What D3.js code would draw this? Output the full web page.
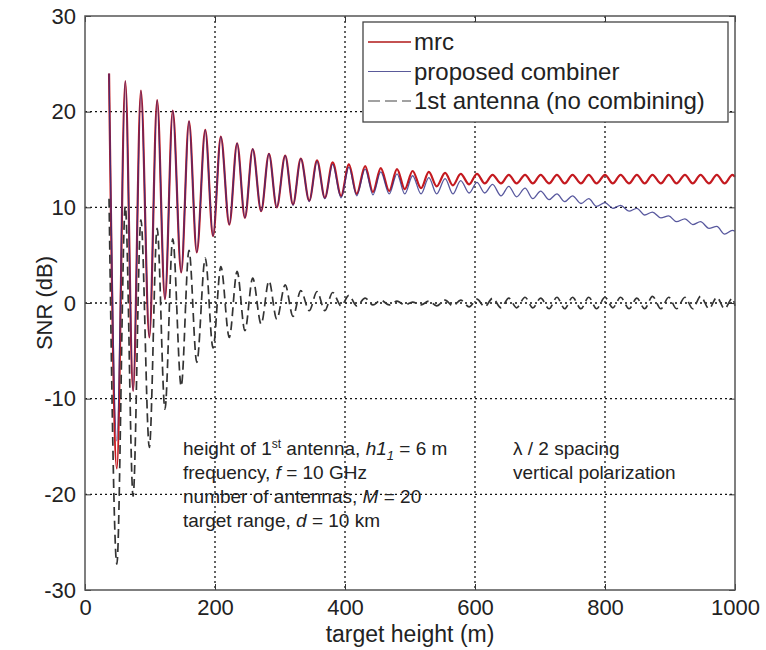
<!DOCTYPE html>
<html>
<head>
<meta charset="utf-8">
<script src="https://cdn.jsdelivr.net/npm/d3@7"></script>
<style>
  body { margin: 0; background: #fff; }
  svg text { font-family: "Liberation Sans", Arial, sans-serif; fill: #222; }
</style>
</head>
<body>
<div id="chart"></div>
<script>
// heights (m) where the curves turn (peak / trough)
var heights = [37,49,62,74,86,99,111,123,135,148,160,172,185,197,209,222,234,246,258,271,
  283,295,308,320,332,345,357,369,381,394,406,418,431,443,455,468,480,492,504,517,
  529,541,554,566,578,591,603,615,627,640,652,664,677,689,701,714,726,738,750,763,
  775,787,800,812,824,837,849,861,873,886,898,910,923,935,947,960,972,984,996,1000];

var mrcSNR = [24.0,-17.3,23.2,-9.2,22.2,-3.6,21.2,0.4,20.1,3.2,
  19.0,5.3,18.1,7.0,17.4,8.2,16.7,8.9,16.1,9.6,
  15.6,10.0,15.4,10.3,15.1,10.7,14.9,11.0,14.7,11.2,
  14.5,11.4,14.3,11.6,14.1,11.7,14.0,11.9,13.8,12.0,
  13.7,12.2,13.6,12.3,13.5,12.4,13.5,12.5,13.4,12.5,
  13.4,12.5,13.4,12.5,13.4,12.5,13.4,12.5,13.4,12.5,
  13.4,12.5,13.4,12.5,13.4,12.5,13.4,12.5,13.4,12.5,
  13.4,12.5,13.4,12.5,13.4,12.5,13.4,12.5,13.4,13.2];

var proposedSNR = [24.0,-14.4,23.2,-9.2,22.2,-3.6,21.2,0.4,20.1,3.2,
  19.0,5.3,18.1,7.0,17.4,8.2,16.7,8.9,16.1,9.6,
  15.6,10.0,15.4,10.2,15.1,10.6,14.8,10.9,14.5,11.0,
  14.2,11.2,14.0,11.3,13.7,11.4,13.5,11.4,13.3,11.4,
  13.1,11.4,13.0,11.4,12.8,11.5,12.6,11.5,12.4,11.2,
  12.2,11.1,12.0,10.9,11.7,10.8,11.4,10.6,11.2,10.4,
  10.9,10.1,10.5,9.9,10.2,9.6,9.9,9.2,9.5,8.9,
  9.1,8.5,8.8,8.2,8.5,7.8,8.0,7.2,7.6,7.5];

var antennaSNR = [10.9,-27.3,10.1,-20.2,8.7,-15.1,7.8,-11.1,6.7,-8.7,
  5.5,-6.2,4.7,-4.7,3.8,-3.6,3.3,-2.9,2.6,-2.2,
  2.3,-1.7,1.9,-1.4,1.3,-0.8,1.2,-0.8,1.1,-0.3,
  0.8,-0.3,0.5,-0.2,0.3,-0.2,0.2,-0.2,0.1,-0.2,
  0.2,-0.3,0.3,-0.3,0.3,-0.4,0.4,-0.4,0.5,-0.5,
  0.5,-0.5,0.6,-0.5,0.5,-0.6,0.6,-0.6,0.6,-0.6,
  0.6,-0.6,0.6,-0.5,0.6,-0.6,0.5,-0.6,0.7,-0.6,
  0.6,-0.6,0.6,-0.6,0.7,-0.6,0.6,-0.6,0.5,-0.3];

var xTicks = [0,200,400,600,800,1000];
var yTicks = [-30,-20,-10,0,10,20,30];
var legendNames = ["mrc","proposed combiner","1st antenna (no combining)"];

var width = 766, height = 650;
var plotL = 85, plotR = 735, plotT = 16, plotB = 590;

var svg = d3.select("#chart").append("svg").attr("width", width).attr("height", height);

var x = d3.scaleLinear().domain([0,1000]).range([plotL,plotR]);
var y = d3.scaleLinear().domain([-30,30]).range([plotB,plotT]);

// grid
var grid = svg.append("g").attr("stroke","#111").attr("stroke-width",1.3).attr("stroke-dasharray","2,3");
grid.selectAll(".gx").data(xTicks.slice(1,-1)).enter().append("line")
    .attr("x1", function(d){ return x(d); }).attr("x2", function(d){ return x(d); })
    .attr("y1", plotT).attr("y2", plotB);
grid.selectAll(".gy").data(yTicks.slice(1,-1)).enter().append("line")
    .attr("y1", function(d){ return y(d); }).attr("y2", function(d){ return y(d); })
    .attr("x1", plotL).attr("x2", plotR);

// curves
var line = d3.line()
    .x(function(d){ return x(d[0]); })
    .y(function(d){ return y(d[1]); })
    .curve(d3.curveMonotoneX);

svg.append("path").datum(d3.zip(heights, mrcSNR))
    .attr("d", line).attr("fill","none").attr("stroke","#c41a20").attr("stroke-width",2.2);
svg.append("path").datum(d3.zip(heights, proposedSNR))
    .attr("d", line).attr("fill","none").attr("stroke","#2e2e86").attr("stroke-width",1.3).attr("stroke-opacity",0.8);
svg.append("path").datum(d3.zip(heights, antennaSNR))
    .attr("d", line).attr("fill","none").attr("stroke","#333").attr("stroke-width",1.7)
    .attr("stroke-dasharray","9,5");

// axes
function fmt(d){ return String(d); }
svg.append("g").attr("transform","translate(0,"+plotB+")")
    .call(d3.axisBottom(x).tickValues(xTicks).tickFormat(fmt).tickSizeInner(-6).tickSizeOuter(0).tickPadding(9));
svg.append("g").attr("transform","translate("+plotL+",0)")
    .call(d3.axisLeft(y).tickValues(yTicks).tickFormat(fmt).tickSizeInner(-6).tickSizeOuter(0).tickPadding(9));
svg.append("g").attr("transform","translate(0,"+plotT+")")
    .call(d3.axisTop(x).tickValues(xTicks).tickFormat("").tickSizeInner(-6).tickSizeOuter(0));
svg.append("g").attr("transform","translate("+plotR+",0)")
    .call(d3.axisRight(y).tickValues(yTicks).tickFormat("").tickSizeInner(-6).tickSizeOuter(0));
svg.selectAll(".domain").remove();
svg.selectAll(".tick line").attr("stroke","#333");
svg.selectAll(".tick text").style("font-size","22px").attr("fill","#222");

svg.append("rect").attr("x",plotL).attr("y",plotT).attr("width",plotR-plotL).attr("height",plotB-plotT)
    .attr("fill","none").attr("stroke","#555").attr("stroke-width",1.5);

// axis titles
svg.append("text").attr("x",(plotL+plotR)/2).attr("y",642).attr("text-anchor","middle")
    .style("font-size","23px").text("target height (m)");
svg.append("text").attr("transform","translate(52,"+((plotT+plotB)/2)+") rotate(-90)")
    .attr("text-anchor","middle").style("font-size","22px").text("SNR (dB)");

// legend
var lg = svg.append("g");
lg.append("rect").attr("x",363).attr("y",22).attr("width",365).attr("height",100)
    .attr("fill","#fff").attr("stroke","#444").attr("stroke-width",1.3);
var lgStyle = [
  {stroke:"#b01818", w:1.6, dash:null},
  {stroke:"#5a5a9a", w:1.2, dash:null},
  {stroke:"#444", w:1.2, dash:"12,5"}
];
legendNames.forEach(function(name,i){
  var cy = 42 + i*29.5;
  lg.append("line").attr("x1",368).attr("x2",411).attr("y1",cy).attr("y2",cy)
    .attr("stroke",lgStyle[i].stroke).attr("stroke-width",lgStyle[i].w)
    .attr("stroke-dasharray",lgStyle[i].dash);
  lg.append("text").attr("x",414).attr("y",cy+8).style("font-size","24px").text(name);
});

// annotations
var note = svg.append("g").style("font-size","19px");
var t1 = note.append("text").attr("x",183).attr("y",455);
t1.append("tspan").text("height of 1");
t1.append("tspan").attr("dy",-7).style("font-size","12px").text("st");
t1.append("tspan").attr("dy",7).text(" antenna, ");
t1.append("tspan").style("font-style","italic").text("h1");
t1.append("tspan").attr("dy",5).style("font-size","13px").style("font-style","italic").text("1");
t1.append("tspan").attr("dy",-5).text(" = 6 m");

var t2 = note.append("text").attr("x",183).attr("y",479);
t2.append("tspan").text("frequency, ");
t2.append("tspan").style("font-style","italic").text("f");
t2.append("tspan").text(" = 10 GHz");

var t3 = note.append("text").attr("x",183).attr("y",503);
t3.append("tspan").text("number of antennas, ");
t3.append("tspan").style("font-style","italic").text("M");
t3.append("tspan").text(" = 20");

var t4 = note.append("text").attr("x",183).attr("y",527);
t4.append("tspan").text("target range, ");
t4.append("tspan").style("font-style","italic").text("d");
t4.append("tspan").text(" = 10 km");

note.append("text").attr("x",513).attr("y",455).text("λ / 2 spacing");
note.append("text").attr("x",513).attr("y",479).text("vertical polarization");
</script>
</body>
</html>
